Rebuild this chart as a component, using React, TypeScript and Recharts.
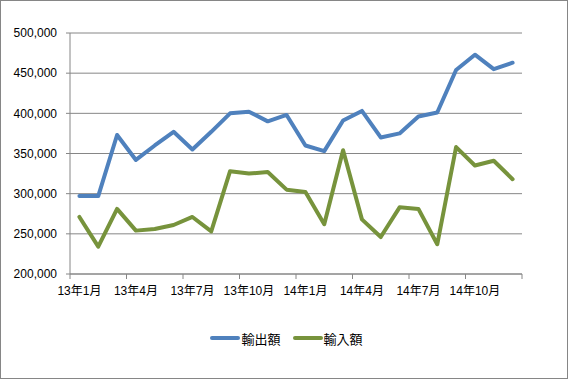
import { LineChart, Line, XAxis, YAxis, CartesianGrid, Legend } from 'recharts';

// 13年1月〜14年12月 (月次)
const months = [
  '13年1月', '13年2月', '13年3月', '13年4月', '13年5月', '13年6月',
  '13年7月', '13年8月', '13年9月', '13年10月', '13年11月', '13年12月',
  '14年1月', '14年2月', '14年3月', '14年4月', '14年5月', '14年6月',
  '14年7月', '14年8月', '14年9月', '14年10月', '14年11月', '14年12月',
];

const exports = [
  297000, 297000, 373000, 342000, 360000, 377000,
  355000, 377000, 400000, 402000, 390000, 398000,
  360000, 353000, 391000, 403000, 370000, 375000,
  396000, 401000, 454000, 473000, 455000, 463000,
];

const imports = [
  271000, 234000, 281000, 254000, 256000, 261000,
  271000, 253000, 328000, 325000, 327000, 305000,
  302000, 262000, 354000, 268000, 246000, 283000,
  281000, 237000, 358000, 335000, 341000, 318000,
];

const seriesNames = ['輸出額', '輸入額'];
const yTicks = [200000, 250000, 300000, 350000, 400000, 450000, 500000];

const W = 568;
const H = 379;
const PLOT_LEFT = 70;
const PLOT_RIGHT = 522;
const BAND = (PLOT_RIGHT - PLOT_LEFT) / months.length;

const BLUE = '#4F81BD';
const GREEN = '#77933C';
const GRAY = '#868686';
const FONT = "'Liberation Sans', 'Noto Sans CJK JP', sans-serif";

const data = months.map((m, i) => ({
  month: m,
  [seriesNames[0]]: exports[i],
  [seriesNames[1]]: imports[i],
}));

// Excel風: 3か月おきに目盛り線をカテゴリの境目に、ラベルはカテゴリ中央に
function MonthTick(props: any) {
  const { x, y, payload, index } = props;
  const last = index === months.length - 1;
  return (
    <g>
      {index % 3 === 0 && (
        <>
          <line x1={x - BAND / 2} x2={x - BAND / 2} y1={y} y2={y + 5} stroke={GRAY} />
          <text x={x} y={y + 21} textAnchor="middle" fontSize={12} fill="#000" fontFamily={FONT}>
            {payload.value}
          </text>
        </>
      )}
      {last && <line x1={x + BAND / 2} x2={x + BAND / 2} y1={y} y2={y + 5} stroke={GRAY} />}
    </g>
  );
}

function LegendBox(props: any) {
  const items = [...(props.payload || [])].sort(
    (a: any, b: any) => seriesNames.indexOf(a.value) - seriesNames.indexOf(b.value)
  );
  return (
    <div style={{ display: 'flex', justifyContent: 'center', height: 20, alignItems: 'center', fontFamily: FONT, fontSize: 13 }}>
      {items.map((it: any) => (
        <div key={it.value} style={{ display: 'flex', alignItems: 'center', margin: '0 6px' }}>
          <svg width={30} height={6}>
            <line x1={2} x2={28} y1={3} y2={3} stroke={it.color} strokeWidth={4} strokeLinecap="round" />
          </svg>
          <span style={{ color: '#000', marginLeft: 1 }}>{it.value}</span>
        </div>
      ))}
    </div>
  );
}

export default function App() {
  return (
    <div style={{ position: 'absolute', left: 0, top: 0, width: W, height: H, background: '#fff' }}>
      <LineChart
        width={W}
        height={H}
        data={data}
        margin={{ top: 33, right: W - PLOT_RIGHT, left: 0, bottom: 55 }}
      >
        <CartesianGrid vertical={false} stroke={GRAY} />
        <XAxis
          dataKey="month"
          interval={0}
          height={30}
          padding={{ left: BAND / 2, right: BAND / 2 }}
          tickSize={0}
          tickMargin={0}
          tickLine={false}
          axisLine={{ stroke: GRAY }}
          tick={<MonthTick />}
        />
        <YAxis
          width={PLOT_LEFT}
          domain={[200000, 500000]}
          ticks={yTicks}
          tickSize={4}
          tickMargin={9}
          axisLine={{ stroke: GRAY }}
          tickLine={{ stroke: GRAY }}
          tick={{ fontSize: 12, fill: '#000', fontFamily: FONT }}
          tickFormatter={(v: number) => v.toLocaleString('en-US')}
        />
        <Legend content={<LegendBox />} wrapperStyle={{ bottom: 31, left: 0, width: W + 5 }} />
        <Line
          type="linear"
          dataKey={seriesNames[0]}
          stroke={BLUE}
          strokeWidth={4}
          strokeLinejoin="round"
          strokeLinecap="round"
          dot={false}
          activeDot={false}
          isAnimationActive={false}
        />
        <Line
          type="linear"
          dataKey={seriesNames[1]}
          stroke={GREEN}
          strokeWidth={4}
          strokeLinejoin="round"
          strokeLinecap="round"
          dot={false}
          activeDot={false}
          isAnimationActive={false}
        />
      </LineChart>
      <div
        style={{
          position: 'absolute',
          left: 0,
          top: 0,
          width: W,
          height: H,
          boxSizing: 'border-box',
          border: `1px solid ${GRAY}`,
          pointerEvents: 'none',
        }}
      />
    </div>
  );
}
